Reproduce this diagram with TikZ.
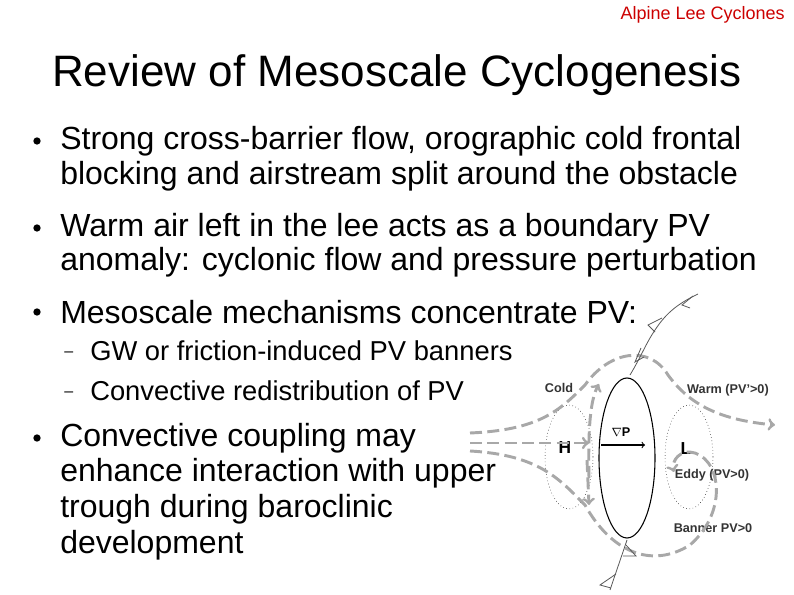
\documentclass[tikz,border=0pt]{standalone}
\usepackage{fontspec}
\setmainfont{Liberation Sans}
\usetikzlibrary{positioning,arrows,shapes}
\definecolor{hdrred}{rgb}{0.8,0,0}
\definecolor{flowgray}{rgb}{0.66,0.66,0.66}
\begin{document}
\begin{tikzpicture}[x=0.75pt,y=-0.75pt,
        bul/.style = {anchor=west, inner sep=0pt, font=\fontsize{24}{28}\selectfont},
        sub/.style = {anchor=west, inner sep=0pt, font=\fontsize{20.5}{24}\selectfont},
        lbl/.style = {inner sep=0pt, font=\fontsize{9.5}{11}\selectfont\bfseries, text=black!80},
]
\tikzstyle{flow}=[flowgray, line width=2.2pt, dash pattern=on 9pt off 4pt, -to]
\tikzstyle{flowline}=[flowgray, line width=2.2pt, dash pattern=on 9pt off 4pt]
\tikzstyle{dot}=[circle, fill=black, inner sep=0pt, minimum size=5.5pt]
\tikzstyle{front}=[gray!70!black, line width=0.6pt]

	\useasboundingbox (0,0) rectangle (794,595);

	% header and title
	\node[anchor=east, inner sep=0pt, text=hdrred, font=\fontsize{13.5}{16}\selectfont] (hdr) at (785,15) {Alpine Lee Cyclones};
	\node[inner sep=0pt, font=\fontsize{33}{38}\selectfont] (title) at (397,75) {Review of Mesoscale Cyclogenesis};

	% bullets
	\node[dot] (b1) at (37,141) {};
	\node[bul] (t1a) at (60,141) {Strong cross-barrier flow, orographic cold frontal};
	\node[bul] (t1b) at (60,176) {blocking and airstream split around the obstacle};
	\node[dot] (b2) at (37,228) {};
	\node[bul] (t2a) at (60,228) {Warm air left in the lee acts as a boundary PV};
	\node[bul] (t2b) at (60,262) {anomaly: cyclonic flow and pressure perturbation};
	\node[dot] (b3) at (37,312) {};
	\node[bul] (t3) at (60,312) {Mesoscale mechanisms concentrate PV:};
	\node[sub, font=\fontsize{12}{14}\selectfont] (d1) at (64,354) {--};
	\node[sub] (s1) at (90,351) {GW or friction-induced PV banners};
	\node[sub, font=\fontsize{12}{14}\selectfont] (d2) at (64,394) {--};
	\node[sub] (s2) at (90,391) {Convective redistribution of PV};
	\node[dot] (b4) at (37,438) {};
	\node[bul] (t4a) at (60,438) {Convective coupling may};
	\node[bul] (t4b) at (60,473) {enhance interaction with upper};
	\node[bul] (t4c) at (60,509) {trough during baroclinic};
	\node[bul] (t4d) at (60,545) {development};

	% obstacle and pressure regions
	\node[draw, thick, ellipse, minimum width=42, minimum height=120, inner sep=0pt] (obst) at (627,458) {};
	\node[draw, dotted, ellipse, minimum width=36, minimum height=78, inner sep=0pt] (hreg) at (569,457) {};
	\node[draw, dotted, ellipse, minimum width=36, minimum height=78, inner sep=0pt] (lreg) at (689,457) {};

	% labels
	\node[lbl] (cold) at (559,388) {Cold};
	\node[lbl] (warm) at (728,390) {Warm (PV'>0)};
	\node[lbl] (eddy) at (712,475) {Eddy (PV>0)};
	\node[lbl] (bann) at (713,528) {Banner PV>0};
	\node[inner sep=0pt, font=\fontsize{13}{15}\selectfont\bfseries] (hh) at (565,448) {H};
	\node[inner sep=0pt, font=\fontsize{13}{15}\selectfont\bfseries] (ll) at (686,449) {L};
	\node[lbl, text=black] (gradp) at (621,432) {$\nabla$P};
	\coordinate (gp0) at (601,445);
	\coordinate (gp1) at (645,445);
	\draw[->, thick] (gp0) -- (gp1);

	% airstreams
	\coordinate (in1) at (470,433);
	\coordinate (in2) at (470,443);
	\coordinate (in3) at (470,451);
	\coordinate (outw) at (775,425);
	\coordinate (hmid) at (589,443);
	\draw[flow] (in1) .. controls (540,430) and (560,410) .. (585,385)
		.. controls (610,350) and (650,345) .. (668,375)
		.. controls (690,405) and (720,420) .. (outw);
	\draw[flow] (in2) -- (hmid);
	\draw[flow] (in3) .. controls (540,455) and (560,480) .. (585,505)
		.. controls (610,550) and (650,570) .. (690,545)
		.. controls (730,510) and (720,455) .. (690,452)
		.. controls (675,452) and (672,465) .. (674,472);
	\draw[flow] (589,478) .. controls (588,430) and (590,400) .. (599,384);
	\draw[flow] (587,460) -- (589,505);

	% front
	\draw[front] (698,294) .. controls (675,305) and (665,315) .. (655,330)
		.. controls (645,345) and (642,355) .. (630,375);
	\draw[front] (693,296) -- (682,305) -- (690,308);
	\draw[front] (662,318) -- (648,325) -- (655,332);
	\draw[front] (641,348) -- (635,362) -- (644,357);
	\draw[front] (627,540) .. controls (622,555) and (615,575) .. (610,590);
	\draw[front] (626,545) -- (636,556) -- (623,556);
	\draw[front] (616,574) -- (600,585) -- (611,588);
\end{tikzpicture}
\end{document}
